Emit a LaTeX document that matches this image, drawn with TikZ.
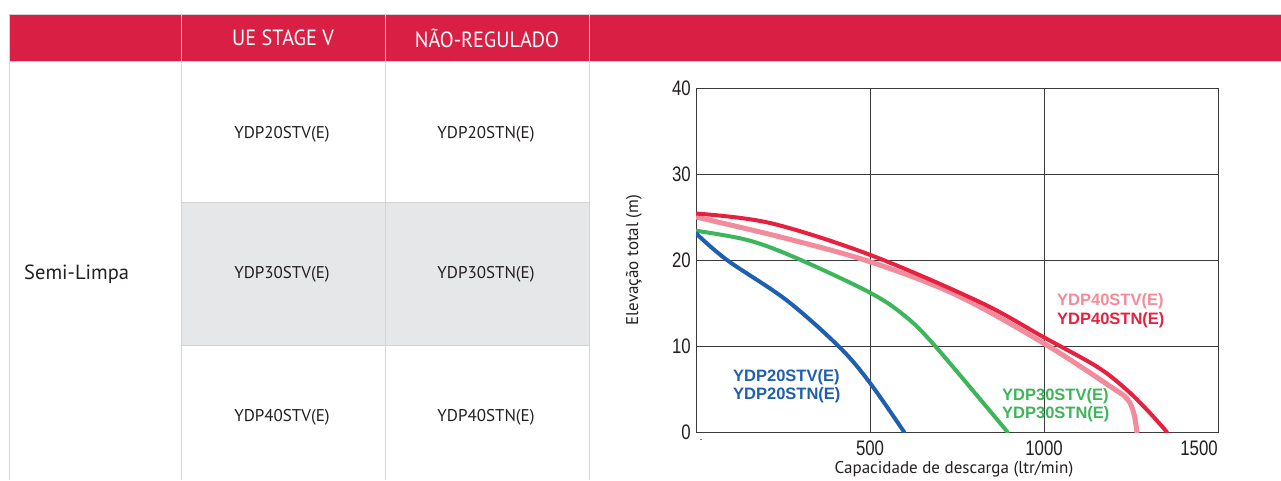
\documentclass[tikz,border=0pt]{standalone}
\usepackage{fontspec}
\setmainfont{PT Sans}
\newfontfamily\hdrfont[FakeStretch=0.92]{PT Sans}
\newfontfamily\numfont[FakeStretch=0.8]{Liberation Sans}
\newfontfamily\lblfont{Liberation Sans}
\definecolor{hdrred}{HTML}{DA1F44}
\definecolor{rowgray}{HTML}{E6E7E8}
\definecolor{tablegrid}{HTML}{D4D4D4}
\definecolor{axisc}{HTML}{3A3A3A}
\definecolor{txt}{HTML}{231F20}
\definecolor{cblue}{HTML}{1F5FAF}
\definecolor{cgreen}{HTML}{3DB55A}
\definecolor{cred}{HTML}{E5213F}
\definecolor{cpink}{HTML}{F28B9B}
\tikzset{
  tline/.style={draw=tablegrid, line width=1pt},
  hdrtxt/.style={text=white, font=\hdrfont\fontsize{22}{24}\selectfont, inner sep=0pt},
  celltxt/.style={text=txt, font=\fontsize{17}{20}\selectfont, inner sep=0pt},
  gridl/.style={draw=axisc, line width=1pt},
  ticktxt/.style={text=txt, font=\numfont\fontsize{21}{23}\selectfont, inner sep=0pt},
  axtitle/.style={text=txt, font=\fontsize{17}{20}\selectfont, inner sep=0pt},
  curvelbl/.style={font=\lblfont\bfseries\fontsize{16.5}{19}\selectfont, inner sep=0pt, anchor=west},
  curve/.style={line width=4pt, line cap=round, line join=round},
}
\begin{document}
\begin{tikzpicture}[x=1pt,y=-1pt]
\useasboundingbox (0,0) rectangle (1281,480);
\fill[white] (0,0) rectangle (1281,480);
% header band
\fill[hdrred] (9,14) rectangle (1281,61);
\fill[rowgray] (181,202) rectangle (589,345);
\draw[tline] (9,14) -- (1281,14);
\draw[tline] (9,61) -- (1281,61);
\draw[tline] (9,14) -- (9,480);
\draw[tline] (181,14) -- (181,480);
\draw[tline] (385,14) -- (385,480);
\draw[tline] (589,14) -- (589,480);
\draw[tline] (181,202) -- (589,202);
\draw[tline] (181,345) -- (589,345);
% header texts
\node[hdrtxt] (h1) at (283,38) {UE STAGE V};
\node[hdrtxt] (h2) at (487,38) {NÃO-REGULADO};
% cells
\node[celltxt, anchor=west, font=\fontsize{20.5}{24}\selectfont] (semi) at (24,274) {Semi-Limpa};
\node[celltxt] (c11) at (282,134) {YDP20STV(E)};
\node[celltxt] (c12) at (486,134) {YDP20STN(E)};
\node[celltxt] (c21) at (282,274) {YDP30STV(E)};
\node[celltxt] (c22) at (486,274) {YDP30STN(E)};
\node[celltxt] (c31) at (282,417) {YDP40STV(E)};
\node[celltxt] (c32) at (486,417) {YDP40STN(E)};
% chart
\begin{scope}[shift={(696,432)}, x=0.348pt, y=8.6pt]
  \draw[gridl] (0,0) rectangle (1500,40);
  \foreach \gx in {500,1000} \draw[gridl] (\gx,0) -- (\gx,40);
  \foreach \gy in {10,20,30} \draw[gridl] (0,\gy) -- (1500,\gy);
  \foreach \gy in {0,10,20,30,40} \node[ticktxt, anchor=east] (ty\gy) at ([xshift=-5pt]0,\gy) {\gy};
  \node[ticktxt, anchor=north] (tx500) at ([yshift=-9pt]500,0) {500};
  \node[ticktxt, anchor=north] (tx1000) at ([yshift=-9pt]1000,0) {1000};
  \node[ticktxt, anchor=north] (tx1500) at ([yshift=-9pt,xshift=-19pt]1500,0) {1500};
  \node[text=txt, font=\fontsize{8}{8}\selectfont, inner sep=0pt] (tx0) at ([xshift=5pt,yshift=-9pt]0,0) {-};
  \clip (0,0) rectangle (1500,40);
  % pink (STV 40)
  \draw[curve, draw=cpink, line width=5pt] plot[smooth, tension=0.55] coordinates
    {(0,25.0) (250,22.6) (500,19.8) (750,15.9) (1000,10.3) (1198,5.1) (1240,3.8) (1258,2.2) (1267,0)};
  % red (STN 40)
  \draw[curve, draw=cred] plot[smooth, tension=0.55] coordinates
    {(0,25.4) (213,24.3) (500,20.6) (816,15.1) (1000,11.0) (1152,7.6) (1235,5.0) (1300,2.4) (1353,0)};
  % green
  \draw[curve, draw=cgreen] plot[smooth, tension=0.55] coordinates
    {(0,23.4) (150,22.3) (290,20.2) (500,16.2) (600,13.5) (687,10) (895,0)};
  % blue
  \draw[curve, draw=cblue] plot[smooth, tension=0.55] coordinates
    {(0,23.1) (89,20) (261,15.3) (414,9.8) (500,5.7) (598,0)};
\end{scope}
% axis titles
\node[axtitle, rotate=90] (ytitle) at (634,260) {Elevação total (m)};
\node[axtitle] (xtitle) at (954,469) {Capacidade de descarga (ltr/min)};
% curve labels
\node[curvelbl, text=cblue] (l20a) at (733,377) {YDP20STV(E)};
\node[curvelbl, text=cblue] (l20b) at (733,395) {YDP20STN(E)};
\node[curvelbl, text=cgreen] (l30a) at (1002,396) {YDP30STV(E)};
\node[curvelbl, text=cgreen] (l30b) at (1002,414) {YDP30STN(E)};
\node[curvelbl, text=cpink] (l40a) at (1057,301) {YDP40STV(E)};
\node[curvelbl, text=cred] (l40b) at (1057,320) {YDP40STN(E)};
\end{tikzpicture}
\end{document}
